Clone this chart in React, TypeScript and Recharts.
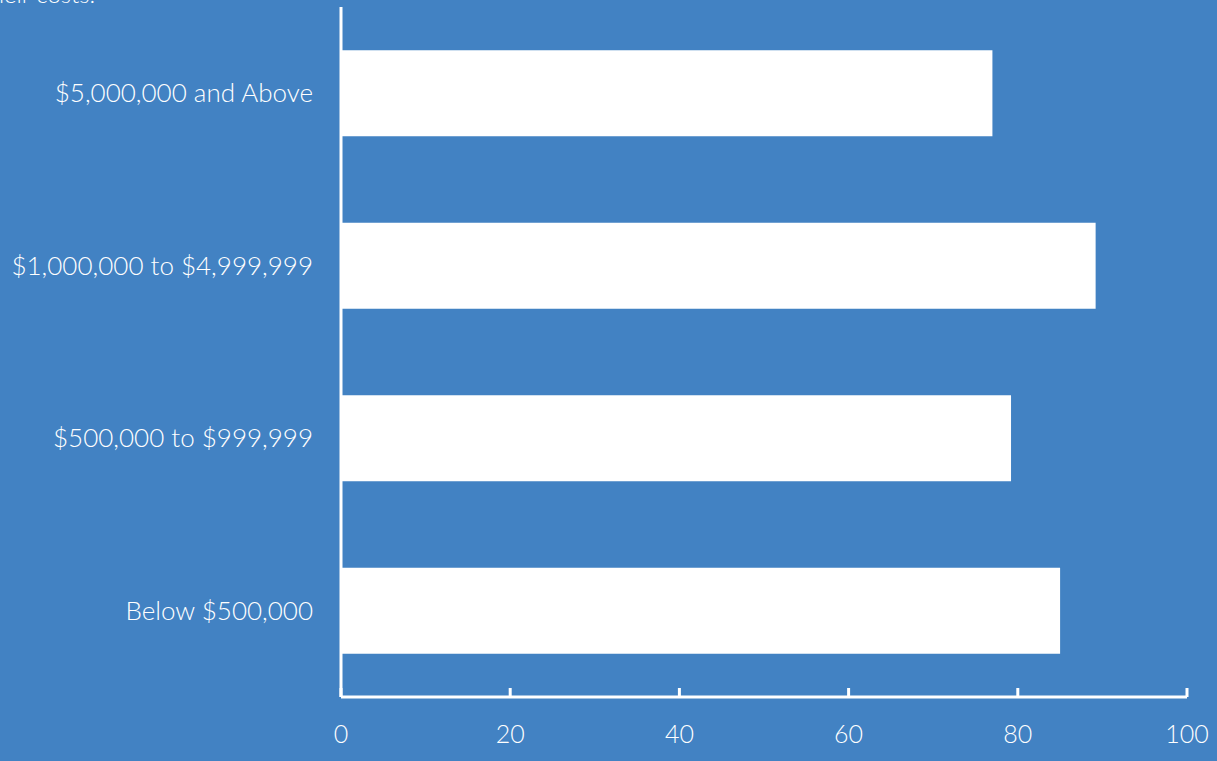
import React from "react";
import { BarChart, Bar, XAxis, YAxis } from "recharts";

const categories = [
  "$5,000,000 and Above",
  "$1,000,000 to $4,999,999",
  "$500,000 to $999,999",
  "Below $500,000",
];
const values = [77, 89.2, 79.2, 85];
const xTicks = [0, 20, 40, 60, 80, 100];

const data = categories.map((c, i) => ({ name: c, value: values[i] }));

const BG = "#4282c3";
const FONT = "Lato, 'Open Sans', sans-serif";

const XTick = (props: any) => {
  const { x, y, payload } = props;
  return (
    <g>
      <line x1={x} x2={x} y1={y} y2={y - 9} stroke="#fff" strokeWidth={3} />
      <text
        x={x}
        y={y + 46}
        textAnchor="middle"
        fill="#fff"
        fontSize={25}
        fontFamily={FONT}
        fontWeight={300}
      >
        {payload.value}
      </text>
    </g>
  );
};

export default function App() {
  return (
    <div
      style={{
        position: "absolute",
        left: 0,
        top: 0,
        width: 1217,
        height: 761,
        background: BG,
        overflow: "hidden",
      }}
    >
      <svg
        width={300}
        height={10}
        style={{ position: "absolute", left: 0, top: 0 }}
      >
        <text
          x={95}
          y={3}
          textAnchor="end"
          fill="#fff"
          fontSize={24}
          fontFamily={FONT}
          fontWeight={300}
        >
          their costs.
        </text>
      </svg>
      <BarChart
        width={1217}
        height={761}
        data={data}
        layout="vertical"
        margin={{ top: 7, right: 30, bottom: 0, left: 0 }}
        barCategoryGap="25%"
      >
        <XAxis
          type="number"
          domain={[0, 100]}
          ticks={xTicks}
          height={64}
          axisLine={{ stroke: "#fff", strokeWidth: 3 }}
          tickLine={false}
          tickSize={0}
          tickMargin={0}
          tick={<XTick />}
          interval={0}
        />
        <YAxis
          type="category"
          dataKey="name"
          width={341}
          axisLine={{ stroke: "#fff", strokeWidth: 3 }}
          tickLine={false}
          tickSize={0}
          tickMargin={28}
          tick={{
            fill: "#fff",
            fontSize: 26,
            fontFamily: FONT,
            fontWeight: 300,
          }}
        />
        <Bar dataKey="value" fill="#ffffff" isAnimationActive={false} />
      </BarChart>
    </div>
  );
}
